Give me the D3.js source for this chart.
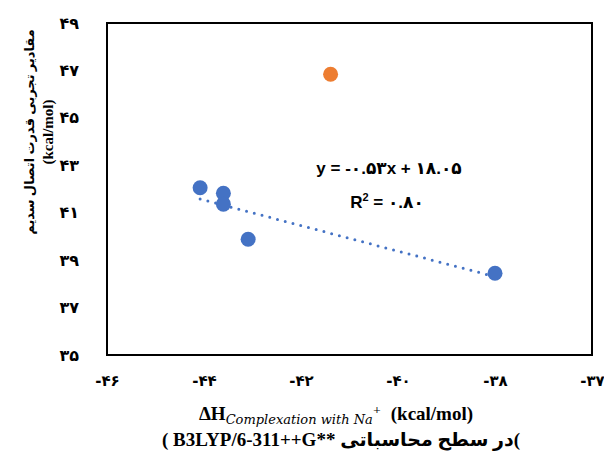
<!DOCTYPE html>
<html>
<head>
<meta charset="utf-8">
<script src="https://cdn.jsdelivr.net/npm/d3@7"></script>
<style>
  body { margin: 0; background: white; }
  svg { display: block; }
</style>
</head>
<body>
<div id="chart"></div>
<script>
// data
const xVals = [-44.08, -43.6, -43.6, -43.09, -38.0];
const yVals = [42.05, 41.82, 41.36, 39.88, 38.45];
// the outlier, drawn in orange and left out of the fit
const outlierX = [-41.39];
const outlierY = [46.84];

// ticks and their (Persian) labels
const xTicks = [-46, -44, -42, -40, -38, -36];
const xTickLabels = ["-۴۶", "-۴۴", "-۴۲", "-۴۰", "-۳۸", "-۳۷"];
const yTicks = [35, 37, 39, 41, 43, 45, 47, 49];
const yTickLabels = ["۳۵", "۳۷", "۳۹", "۴۱", "۴۳", "۴۵", "۴۷", "۴۹"];

const eqText = "y = -۰.۵۳x + ۱۸.۰۵";
const r2Text = "۰.۸۰";

const w = 604, h = 458;
const m = { top: 23, right: 12, bottom: 103, left: 107 };

const svg = d3.select("#chart").append("svg")
  .attr("width", w).attr("height", h)
  .attr("viewBox", [0, 0, w, h]);

const x = d3.scaleLinear().domain([-46, -36]).range([m.left, w - m.right]);
const y = d3.scaleLinear().domain([35, 49]).range([h - m.bottom, m.top]);

const tickFont = "'DejaVu Sans', sans-serif";
const serif = "'Liberation Serif', 'DejaVu Sans', serif";

// plot area frame
svg.append("rect")
  .attr("x", x(-46)).attr("y", y(49))
  .attr("width", x(-36) - x(-46)).attr("height", y(35) - y(49))
  .attr("fill", "none").attr("stroke", "#000").attr("stroke-width", 2);

// axes (labels only)
const gx = svg.append("g")
  .attr("transform", `translate(0, ${y(35)})`)
  .call(d3.axisBottom(x).tickValues(xTicks)
    .tickFormat((d, i) => xTickLabels[i]).tickSize(0).tickPadding(20));
gx.select(".domain").remove();
gx.selectAll("text")
  .attr("font-size", 15).attr("font-weight", "bold")
  .attr("font-family", tickFont).attr("fill", "#000");

const gy = svg.append("g")
  .attr("transform", `translate(${x(-46)}, 0)`)
  .call(d3.axisLeft(y).tickValues(yTicks)
    .tickFormat((d, i) => yTickLabels[i]).tickSize(0).tickPadding(28));
gy.select(".domain").remove();
gy.selectAll("text")
  .attr("font-size", 16).attr("font-weight", "bold")
  .attr("font-family", tickFont).attr("fill", "#000");

// linear fit over the blue points
const mx = d3.mean(xVals), my = d3.mean(yVals);
const slope = d3.sum(xVals, (d, i) => (d - mx) * (yVals[i] - my)) /
  d3.sum(xVals, (d) => (d - mx) * (d - mx));
const icpt = my - slope * mx;
const [x0, x1] = d3.extent(xVals);

svg.append("line")
  .attr("x1", x(x0)).attr("y1", y(slope * x0 + icpt))
  .attr("x2", x(x1)).attr("y2", y(slope * x1 + icpt))
  .attr("stroke", "#4472C4").attr("stroke-width", 3)
  .attr("stroke-linecap", "round").attr("stroke-dasharray", "0 8");

// points
svg.selectAll("circle.pt")
  .data(xVals.map((d, i) => [d, yVals[i]]))
  .join("circle")
  .attr("class", "pt")
  .attr("cx", (d) => x(d[0])).attr("cy", (d) => y(d[1]))
  .attr("r", 7.5).attr("fill", "#4472C4");

svg.selectAll("circle.out")
  .data(outlierX.map((d, i) => [d, outlierY[i]]))
  .join("circle")
  .attr("class", "out")
  .attr("cx", (d) => x(d[0])).attr("cy", (d) => y(d[1]))
  .attr("r", 7.5).attr("fill", "#ED7D31");

// equation
const eqFont = "'Liberation Sans', 'DejaVu Sans', sans-serif";
svg.append("text")
  .attr("x", 389).attr("y", 174)
  .attr("text-anchor", "middle")
  .attr("font-family", eqFont).attr("font-weight", "bold").attr("font-size", 17)
  .attr("direction", "ltr")
  .text(eqText);

const r2 = svg.append("text")
  .attr("x", 387).attr("y", 208)
  .attr("text-anchor", "middle")
  .attr("font-family", eqFont).attr("font-weight", "bold").attr("font-size", 17)
  .attr("direction", "ltr");
r2.append("tspan").text("R");
r2.append("tspan").attr("font-size", 11).attr("dy", -7).text("2");
r2.append("tspan").attr("dy", 7).text(" = " + r2Text);

// x title
const xt = svg.append("text")
  .attr("x", 336).attr("y", 420)
  .attr("text-anchor", "middle")
  .attr("font-family", serif).attr("font-size", 19).attr("font-weight", "bold")
  .attr("direction", "ltr");
xt.append("tspan").text("ΔH");
xt.append("tspan").attr("font-style", "italic").attr("font-weight", "normal")
  .attr("font-family", "'DejaVu Serif', serif")
  .attr("font-size", 13).attr("dy", 4).text("Complexation with Na");
xt.append("tspan").attr("font-style", "italic").attr("font-weight", "normal")
  .attr("font-family", "'DejaVu Serif', serif")
  .attr("font-size", 10).attr("dy", -11).text("+");
xt.append("tspan").attr("dy", 7).text("\u00a0\u00a0(kcal/mol)");

svg.append("text")
  .attr("x", 341).attr("y", 446)
  .attr("text-anchor", "middle")
  .attr("font-family", serif).attr("font-size", 19).attr("font-weight", "bold")
  .attr("direction", "ltr")
  .text("( B3LYP/6-311++G** در سطح محاسباتی(");

// y title, rotated, two lines
const yt = svg.append("g").attr("transform", "translate(0, 132) rotate(-90)");
yt.append("text")
  .attr("x", 0).attr("y", 34)
  .attr("text-anchor", "middle")
  .attr("font-family", serif).attr("font-size", 13).attr("font-weight", "bold")
  .attr("direction", "rtl")
  .text("مقادیر تجربی قدرت اتصال سدیم");
yt.append("text")
  .attr("x", 0).attr("y", 53)
  .attr("text-anchor", "middle")
  .attr("font-family", serif).attr("font-size", 15).attr("font-weight", "bold")
  .text("(kcal/mol)");
</script>
</body>
</html>
